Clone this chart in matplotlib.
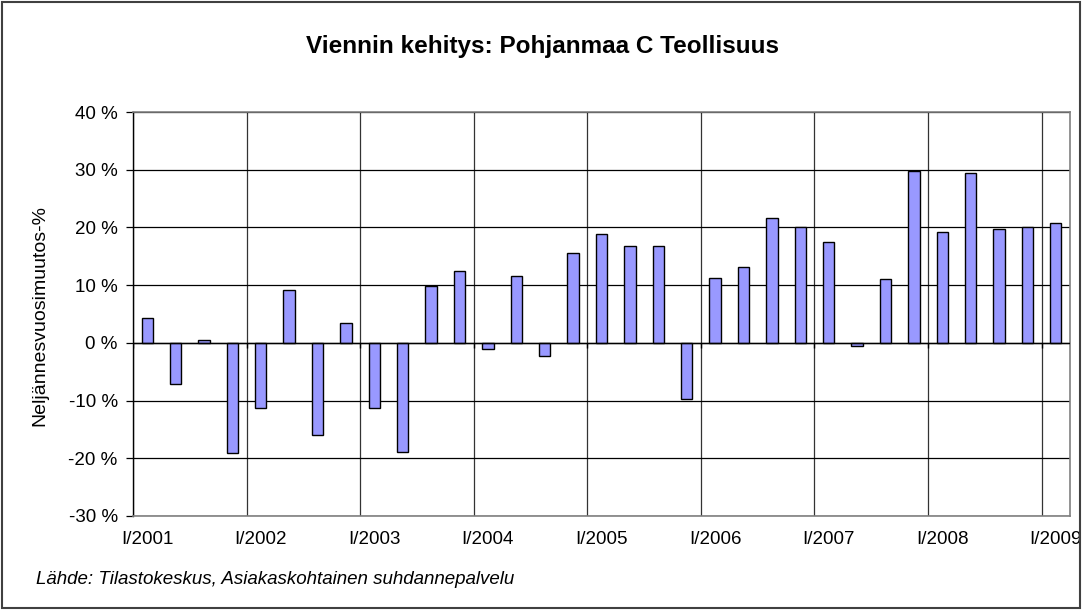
import matplotlib
matplotlib.use("Agg")
import matplotlib.pyplot as plt
from matplotlib.patches import Rectangle
from matplotlib.ticker import FixedLocator, FuncFormatter

plt.rcParams['font.family'] = ['Liberation Sans', 'DejaVu Sans']

title = "Viennin kehitys: Pohjanmaa C Teollisuus"
ylabel = "Neljännesvuosimuutos-%"
source = "Lähde: Tilastokeskus, Asiakaskohtainen suhdannepalvelu"

years = [2001, 2002, 2003, 2004, 2005, 2006, 2007, 2008, 2009]
year_labels = [f"I/{y}" for y in years]

# quarterly year-on-year change, %, I/2001 ... I/2009
values = [4.3, -7.1, 0.5, -19.1,
          -11.3, 9.1, -15.9, 3.5,
          -11.3, -18.9, 9.9, 12.4,
          -1.1, 11.6, -2.2, 15.5,
          18.9, 16.8, 16.8, -9.8,
          11.3, 13.2, 21.6, 20.0,
          17.5, -0.6, 11.0, 29.7,
          19.2, 29.4, 19.7, 20.0,
          20.8]

n = len(values)
fig = plt.figure(figsize=(10.84, 6.10), dpi=100)
ax = fig.add_axes([133/1084, 1-516/610, (1070-133)/1084, (516-112)/610])

xs = list(range(n))
ax.bar(xs, values, width=0.4, color='#9999FF', edgecolor='black', linewidth=1.0, zorder=3)

ax.set_xlim(-0.5, n - 0.5)
ax.set_ylim(-30, 40)

# horizontal grid
ax.set_yticks(range(-30, 41, 10))
ax.yaxis.set_major_formatter(FuncFormatter(lambda v, p: f"{int(v)} %"))
ax.grid(axis='y', color='black', linewidth=0.9, zorder=1)

# vertical grid at year boundaries
bounds = [i - 0.5 for i in range(0, n, 4)]
ax.xaxis.set_minor_locator(FixedLocator(bounds))
ax.grid(axis='x', which='minor', color='#333333', linewidth=0.9, zorder=1)
ax.set_xticks(list(range(0, n, 4)))
ax.set_xticklabels(year_labels)
ax.tick_params(axis='x', which='both', length=0, pad=11, labelsize=13.5)
ax.tick_params(axis='y', length=5, width=0.9, pad=6, labelsize=13.5, direction='out')

# zero axis line with small ticks
ax.axhline(0, color='black', linewidth=1.0, zorder=4)
ax.vlines(bounds, -0.9, 0, color='black', linewidth=1.0, zorder=4)

for side in ['top', 'right', 'bottom']:
    ax.spines[side].set_color('#808080')
    ax.spines[side].set_linewidth(1.2)
ax.spines['left'].set_color('black')
ax.spines['left'].set_linewidth(1.0)

fig.text(542/1084, 1-47/610, title, ha='center', va='center', fontsize=17.5, fontweight='bold')
fig.text(40/1084, 1-316/610, ylabel, ha='center', va='center', rotation=90, fontsize=14)
fig.text(36/1084, 1-580/610, source, ha='left', va='center', fontsize=13.5, style='italic')

fig.patches.append(Rectangle((0.002, 0.003), 0.994, 0.993, transform=fig.transFigure,
                             fill=False, edgecolor='#404040', linewidth=1.5))

fig.savefig("out.png", dpi=100)
